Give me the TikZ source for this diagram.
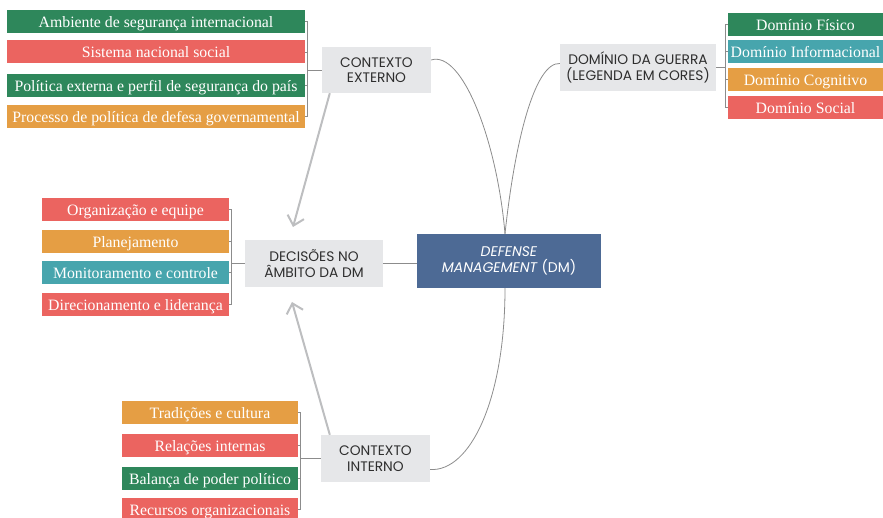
\documentclass[tikz,border=0pt]{standalone}
\usepackage{fontspec}
\setmainfont{Liberation Serif}
\newfontfamily\labfont{Poppins}
\usetikzlibrary{arrows.meta,calc}
\definecolor{cgreen}{HTML}{2E875B}
\definecolor{cred}{HTML}{EB6460}
\definecolor{corange}{HTML}{E59E44}
\definecolor{cteal}{HTML}{47A5AD}
\definecolor{cgraybox}{HTML}{E6E7E9}
\definecolor{cblue}{HTML}{4D6A95}
\definecolor{cline}{HTML}{8C8C8C}
\definecolor{carrow}{HTML}{BDBEC0}
\definecolor{ctext}{HTML}{2E2E2E}
\tikzset{
 leaf/.style={fill=#1, text=white, inner sep=0pt, minimum height=23pt, text height=12.5pt, text depth=0.5pt, font=\fontsize{15.8}{17}\selectfont},
 hub/.style={fill=cgraybox, text=ctext, inner sep=0pt, minimum height=47pt, align=center, font=\labfont\fontsize{13.8}{15.5}\selectfont},
 conn/.style={draw=cline, line width=0.8pt},
 bigarrow/.style={draw=carrow, line width=2pt, -{Straight Barb[length=9pt,width=17pt,line width=2pt]}}
}
\begin{document}
\begin{tikzpicture}[x=1pt,y=-1pt]
\useasboundingbox (0,0) rectangle (883,518);
% top-left group
\node[leaf=cgreen, minimum width=298pt] (a1) at (156,21.5) {Ambiente de segurança internacional};
\node[leaf=cred, minimum width=298pt] (a2) at (156,52) {Sistema nacional social};
\node[leaf=cgreen, minimum width=298pt] (a3) at (156,85.5) {Política externa e perfil de segurança do país};
\node[leaf=corange, minimum width=298pt] (a4) at (156,116.5) {Processo de política de defesa governamental};
\node[hub, minimum width=109pt, minimum height=46pt] (ce) at (376.5,70) {CONTEXTO\\EXTERNO};
% right group
\node[hub, minimum width=156pt] (dg) at (638,67.5) {DOMÍNIO DA GUERRA\\(LEGENDA EM CORES)};
\node[leaf=cgreen, minimum width=155pt] (d1) at (805.5,24.5) {Domínio Físico};
\node[leaf=cteal, minimum width=155pt] (d2) at (805.5,51.5) {Domínio Informacional};
\node[leaf=corange, minimum width=155pt] (d3) at (805.5,79.5) {Domínio Cognitivo};
\node[leaf=cred, minimum width=155pt] (d4) at (805.5,107.5) {Domínio Social};
% middle group
\node[leaf=cred, minimum width=187pt] (m1) at (135.5,209.5) {Organização e equipe};
\node[leaf=corange, minimum width=187pt] (m2) at (135.5,241.5) {Planejamento};
\node[leaf=cteal, minimum width=187pt] (m3) at (135.5,272.5) {Monitoramento e controle};
\node[leaf=cred, minimum width=187pt] (m4) at (135.5,304.5) {Direcionamento e liderança};
\node[hub, minimum width=138pt] (dec) at (314,263.5) {DECISÕES NO\\ÂMBITO DA DM};
\node[fill=cblue, text=white, inner sep=0pt, minimum width=184pt, minimum height=54pt, align=center, font=\labfont\fontsize{14}{16}\selectfont] (dm) at (509,261) {\textit{DEFENSE}\\\textit{MANAGEMENT} (DM)};
% bottom group
\node[leaf=corange, minimum width=176pt] (b1) at (210,412.5) {Tradições e cultura};
\node[leaf=cred, minimum width=176pt] (b2) at (210,445.5) {Relações internas};
\node[leaf=cgreen, minimum width=176pt] (b3) at (210,478.5) {Balança de poder político};
\node[leaf=cred, minimum width=176pt] (b4) at (210,509.5) {Recursos organizacionais};
\node[hub, minimum width=109pt] (ci) at (375.5,458.5) {CONTEXTO\\INTERNO};
% brackets
\draw[conn] (ce.west) -- ++(-14,0) coordinate (bce);
\foreach \n in {a1,a2,a3,a4} \draw[conn] (bce) |- (\n.east);
\draw[conn] (dg.east) -- ++(9,0) coordinate (bdg);
\foreach \n in {d1,d2,d3,d4} \draw[conn] (bdg) |- (\n.west);
\draw[conn] (dec.west) -- ++(-13,0) coordinate (bdec);
\foreach \n in {m1,m2,m3,m4} \draw[conn] (bdec) |- (\n.east);
\draw[conn] (ci.west) -- ++(-20,0) coordinate (bci);
\foreach \n in {b1,b2,b3,b4} \draw[conn] (bci) |- (\n.east);
% main connectors
\draw[conn] (dec.east) -- (dec.east -| dm.west);
\draw[conn] ([xshift=-4pt]dm.north) .. controls (497,140) and (462,50) .. ([yshift=10pt]ce.east);
\draw[conn] ([xshift=-4pt]dm.north) .. controls (515,140) and (535,62) .. ([yshift=4pt]dg.west);
\draw[conn] ([xshift=-4pt]dm.south) .. controls (505,400) and (470,472) .. ([yshift=-11pt]ci.east);
% arrows
\coordinate (tip1) at (293,227);
\coordinate (tip2) at (292,302);
\draw[bigarrow] ($(ce.south west)+(8,0)$) -- (tip1);
\draw[bigarrow] ($(ci.north west)+(9,0)$) -- (tip2);
\end{tikzpicture}
\end{document}
